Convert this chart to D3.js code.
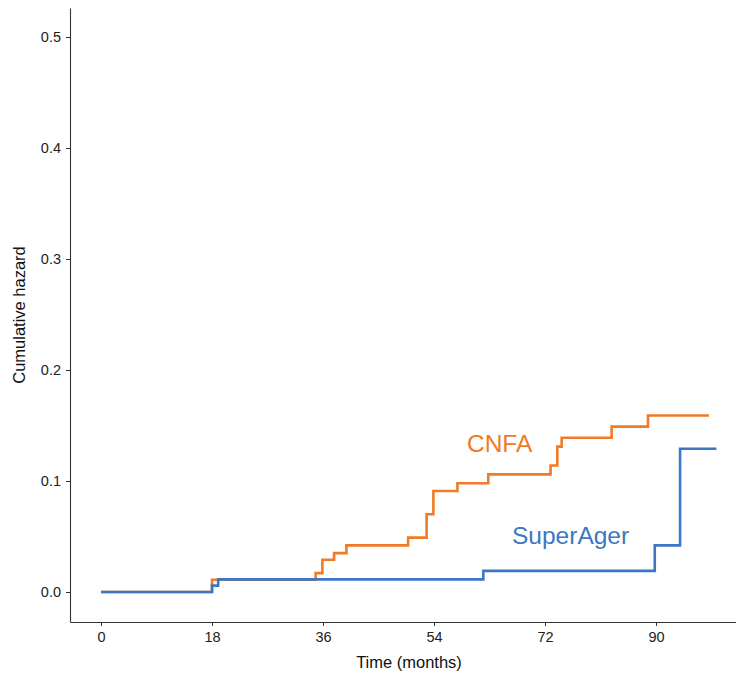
<!DOCTYPE html>
<html>
<head>
<meta charset="utf-8">
<script src="https://cdn.jsdelivr.net/npm/d3@7"></script>
<style>
  body { margin: 0; background: #fff; }
  svg { display: block; font-family: "Liberation Sans", Arial, sans-serif; }
</style>
</head>
<body>
<svg id="chart"></svg>
<script>
// step curves: [month, cumulative hazard]
const cnfaTimes  = [0, 18, 34.8, 35.9, 37.8, 39.8, 49.8, 52.8, 53.9, 57.8, 62.8, 72.9, 74.0, 74.7, 82.8, 88.7, 98.6];
const cnfaHazard = [0, 0.011, 0.017, 0.029, 0.035, 0.042, 0.049, 0.070, 0.091, 0.098, 0.106, 0.114, 0.131, 0.139, 0.149, 0.159, 0.159];

const superTimes  = [0, 18, 19, 62, 89.8, 93.9, 99.8];
const superHazard = [0, 0.0057, 0.0114, 0.019, 0.042, 0.129, 0.129];

const xTicks = [0, 18, 36, 54, 72, 90];
const yTicks = [0, 0.1, 0.2, 0.3, 0.4, 0.5];

const width = 736, height = 675;
const svg = d3.select("#chart").attr("width", width).attr("height", height);

// panel edges in pixels
const panel = { left: 70, right: 736, top: 8, bottom: 622 };

const xScale = d3.scaleLinear().domain([0, 90]).range([101, 656]);
xScale.domain([xScale.invert(panel.left), xScale.invert(panel.right)]).range([panel.left, panel.right]);
const yScale = d3.scaleLinear().domain([0, 0.5]).range([592, 37]);
yScale.domain([yScale.invert(panel.bottom), yScale.invert(panel.top)]).range([panel.bottom, panel.top]);

const line = d3.line()
    .x(d => xScale(d[0]))
    .y(d => yScale(d[1]))
    .curve(d3.curveStepAfter);

const series = [
    { name: "CNFA", color: "#F07A26", pts: d3.zip(cnfaTimes, cnfaHazard), label: [59.35, 0.126] },
    { name: "SuperAger", color: "#3B77C3", pts: d3.zip(superTimes, superHazard), label: [66.65, 0.043] }
];

svg.append("g")
    .selectAll("path")
    .data(series)
    .join("path")
    .attr("d", d => line(d.pts))
    .attr("fill", "none")
    .attr("stroke", d => d.color)
    .attr("stroke-width", 2.6);

svg.append("g")
    .selectAll("text")
    .data(series)
    .join("text")
    .attr("x", d => xScale(d.label[0]))
    .attr("y", d => yScale(d.label[1]))
    .attr("fill", d => d.color)
    .style("font-size", "24.5px")
    .text(d => d.name);

const fmtY = d3.format(".1f");

const xAxis = svg.append("g")
    .attr("transform", `translate(0, ${panel.bottom})`)
    .call(d3.axisBottom(xScale).tickValues(xTicks).tickSize(4).tickPadding(6).tickSizeOuter(0));

const yAxis = svg.append("g")
    .attr("transform", `translate(${panel.left}, 0)`)
    .call(d3.axisLeft(yScale).tickValues(yTicks).tickFormat(fmtY).tickSize(4).tickPadding(5).tickSizeOuter(0));

[xAxis, yAxis].forEach(ax => {
    ax.select(".domain").attr("stroke", "#333").attr("stroke-width", 1.1);
    ax.selectAll(".tick line").attr("stroke", "#333");
    ax.selectAll(".tick text")
        .attr("fill", "#222")
        .style("font-size", "14.5px")
        .style("font-family", "'Liberation Sans', Arial, sans-serif");
});

svg.append("text")
    .attr("x", 409)
    .attr("y", 668)
    .attr("text-anchor", "middle")
    .attr("fill", "#111")
    .style("font-size", "16.5px")
    .text("Time (months)");

svg.append("text")
    .attr("transform", `translate(25, ${(panel.top + panel.bottom) / 2}) rotate(-90)`)
    .attr("text-anchor", "middle")
    .attr("fill", "#111")
    .style("font-size", "16.5px")
    .text("Cumulative hazard");
</script>
</body>
</html>
